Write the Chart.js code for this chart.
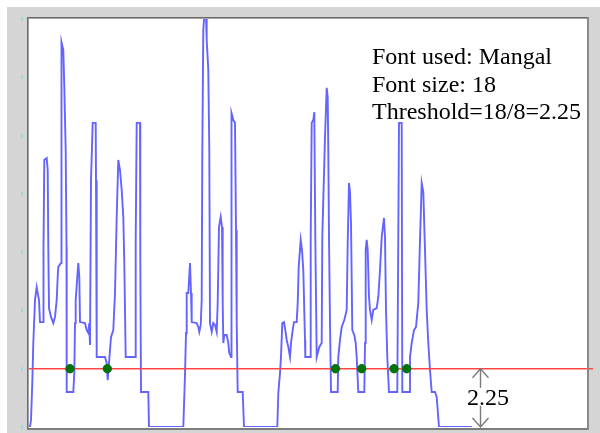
<!DOCTYPE html>
<html>
<head>
<meta charset="utf-8">
<script src="https://cdn.jsdelivr.net/npm/chart.js"></script>
<style>
  body { margin: 0; background: #fff; }
  canvas { display: block; }
</style>
</head>
<body>
<canvas id="perfil" width="600" height="433"></canvas>
<script>
// ======= Datos =======
// perfil de proyeccion: [columna, valor]
const profile = [
  [0,0],[1,0],[2,0.27],[3.3,1.70],[4.3,3.24],[6,4.90],[7.7,5.40],[8.7,5.17],[10,4.90],[11,4.05],[14.3,4.05],
  [14.5,6.95],[15.3,10.31],[17.7,10.38],[18.7,9.92],[19.3,6.95],[20,4.59],[22,4.25],[24.3,4.01],[26,4.25],
  [27.7,4.90],[28.7,5.79],[29.3,6.18],[32,6.33],[32.3,10.58],[32.7,14.86],[34.3,14.55],[35.3,13.12],[36.7,10.69],
  [37.5,6.95],[37.7,1.35],[44.3,1.35],[45.3,2.08],[46,4.01],[46.7,4.90],[48.3,5.79],[49.3,6.33],[50.3,5.79],
  [51,4.05],[56,4.01],[57.7,3.74],[59.3,3.63],[60.3,4.01],[61,3.17],[62,9.53],[63.7,11.74],[66.7,11.74],
  [67,9.53],[67.7,2.70],[76,2.70],[77.7,2.47],[78.7,1.81],[80,2.47],[82,3.47],[84.3,3.74],[86,5.17],
  [87.7,8.11],[89.3,10.31],[91,9.92],[92.7,9.15],[94.3,8.11],[95.3,6.33],[96.7,2.70],[106,2.70],[106.7,7.22],
  [107.7,11.74],[111,11.74],[111.3,6.56],[112,1.35],[119.3,1.35],[120,0],
  [154.3,0],[156,2.01],[157,3.63],[157.7,5.17],[159.3,5.17],[161,6.33],[162,5.17],[162.7,4.05],[167.7,4.01],
  [169.3,3.86],[170.3,3.67],[171.7,3.94],[172.7,4.90],[173.3,10.58],[174.3,15.33],[175.3,15.9],[177,15.79],
  [177.7,14.94],[179.3,13.78],[180.3,10.69],[181,4.01],[182.7,3.67],[184.3,4.01],[186,3.94],[187.7,3.67],
  [188.7,4.79],[190,7.72],[191.7,8.11],[193,7.72],[193.7,4.79],[194.3,3.24],[195.3,3.55],[197.7,3.55],
  [199.3,3.24],[200.3,2.86],[202,2.70],[202.3,7.49],[202.7,12.12],[204.3,11.85],[206,11.74],[207,7.60],
  [207.7,4.01],[208.7,1.35],[213.7,1.35],[215,0],
  [248.3,0],[249.3,1.31],[251,2.08],[252,2.70],[253.3,4.01],[255,4.05],[256.3,3.74],[257.7,3.36],[259.3,3.09],
  [261,2.70],[262,3.24],[263.7,3.74],[265,4.05],[267.7,4.05],[268.7,4.79],[269.7,6.18],[271.7,7.22],[273,6.83],
  [274.3,6.06],[276,3.36],[276.3,2.70],[281,2.70],[281.7,7.33],[282.7,11.74],[284.3,11.85],[285.3,12.16],
  [286.3,7.33],[287.7,2.70],[290.3,3.09],[292.7,3.24],[293.3,7.33],[296,11.19],[297.7,13.09],[298.7,12.74],
  [299.3,10.69],[300,7.33],[301,4.01],[302,1.35],[308.7,1.35],[309.3,2.70],[311,3.36],[312.7,3.86],[315.3,4.13],
  [317.7,4.52],[318.7,7.10],[320,9.42],[321,9.07],[322,7.87],[323.3,3.74],[325.3,3.55],[326.7,3.24],[327.7,2.70],
  [329.3,1.35],[335.3,1.35],[336,3.24],[336.7,6.83],[337.7,7.22],[338.7,6.83],[340,5.02],[341,4.52],[342.7,4.13],
  [344.3,4.52],[347.7,4.59],[349.3,5.02],[351,6.06],[352.7,7.33],[355,8.07],[356,7.33],[357,4.52],[358.3,2.70],
  [360,1.35],[368.3,1.35],[369.3,7.33],[370,11.74],[372.7,11.74],[373.3,1.35],[380,1.35],[381,2.70],[382.7,3.24],
  [385,3.74],[387,3.86],[389.3,4.79],[391,7.22],[392.7,9.42],[394.3,9.07],[396,6.83],[397.7,4.52],[399.3,3.24],
  [401,2.20],[402.7,1.35],[406,1.35],[407.7,1.16],[410,0],[443,0]
];

const threshold = 2.25;                  // 18/8
const cutColumns = [41, 78.3, 306.5, 332.7, 365, 377.7];   // puntos verdes
const thresholdSpan = [-1, 564];         // linea roja
const arrowColumn = 450.5;
const yTicks = [0, 2.25, 4.5, 6.75, 9, 11.25, 13.5, 15.75];
const infoLines = ["Font used: Mangal", "Font size: 18", "Threshold=18/8=2.25"];
const arrowLabel = "2.25";

const SERIF = '"Liberation Serif", "Times New Roman", serif';

// ======= Marco y anotaciones =======
const marco = {
  id: 'marco',
  beforeDraw(chart) {
    const c = chart.ctx, a = chart.chartArea, y = chart.scales.y;
    c.save();
    c.fillStyle = '#ffffff';
    c.fillRect(0, 0, chart.width, chart.height);
    c.fillStyle = '#d5d5d5';
    c.fillRect(7, 7, chart.width - 7, chart.height - 7);
    c.fillStyle = '#ffffff';
    c.fillRect(a.left, a.top, a.right - a.left, a.bottom - a.top + 1);
    // marcas del eje izquierdo
    c.fillStyle = '#a6d8d8';
    yTicks.forEach(v => {
      const py = Math.round(y.getPixelForValue(v));
      c.fillRect(21, py - 2, 2, 4);
    });
    c.restore();
  },
  afterDraw(chart) {
    const c = chart.ctx, a = chart.chartArea, x = chart.scales.x, y = chart.scales.y;
    c.save();
    // bordes
    c.fillStyle = '#6c6c6c';
    c.fillRect(a.left - 2, a.top - 2, a.right - a.left + 2, 1);
    c.fillRect(a.left - 2, a.top - 2, 1, a.bottom - a.top + 5);
    c.fillStyle = '#a2a2a2';
    c.fillRect(a.left - 1, a.top - 1, a.right - a.left + 1, 1);
    c.fillRect(a.left - 1, a.top - 1, 1, a.bottom - a.top + 3);
    c.fillStyle = '#7c7c7c';
    c.fillRect(a.left - 2, a.bottom + 1, a.right - a.left + 4, 2);
    c.fillStyle = '#8a8a8a';
    c.fillRect(a.right, a.top - 2, 2, a.bottom - a.top + 5);

    // texto informativo
    c.fillStyle = '#000';
    c.font = '24px ' + SERIF;
    c.textAlign = 'left';
    c.textBaseline = 'alphabetic';
    infoLines.forEach((t, i) => c.fillText(t, a.left + 343, a.top + 45 + i * 27.5));

    // flecha doble con la altura del umbral
    const ax = Math.round(x.getPixelForValue(arrowColumn)) + 0.5;
    const top = y.getPixelForValue(threshold);
    const bot = y.getPixelForValue(0);
    c.strokeStyle = '#7a7a7a';
    c.lineWidth = 1.4;
    c.beginPath();
    c.moveTo(ax, top); c.lineTo(ax, bot);
    c.moveTo(ax - 8, top + 9); c.lineTo(ax, top); c.lineTo(ax + 8, top + 9);
    c.moveTo(ax - 8, bot - 9); c.lineTo(ax, bot); c.lineTo(ax + 8, bot - 9);
    c.stroke();
    const base = (top + bot) / 2 + 7;
    const w = c.measureText(arrowLabel).width;
    c.fillStyle = '#ffffff';
    c.fillRect(ax - 13.5, base - 17, w, 18);
    c.fillStyle = '#000';
    c.fillText(arrowLabel, ax - 13.5, base);
    c.restore();
  }
};

// ======= Grafico =======
const ctx = document.getElementById('perfil').getContext('2d');

new Chart(ctx, {
  type: 'line',
  data: {
    datasets: [
      {
        data: profile.map(p => ({ x: p[0], y: p[1] })),
        borderColor: '#6464ff',
        borderWidth: 1.9,
        pointRadius: 0,
        tension: 0,
        order: 2
      },
      {
        data: thresholdSpan.map(c => ({ x: c, y: threshold })),
        borderColor: '#ff4646',
        borderWidth: 1.5,
        pointRadius: 0,
        clip: false,
        order: 1
      },
      {
        type: 'scatter',
        data: cutColumns.map(c => ({ x: c, y: threshold })),
        backgroundColor: '#00730a',
        borderColor: '#00730a',
        pointRadius: 4.2,
        order: 0
      }
    ]
  },
  options: {
    responsive: false,
    animation: false,
    events: [],
    layout: { padding: { left: 29, right: 13, top: 19, bottom: 6 } },
    scales: {
      x: { type: 'linear', min: 0, max: 558, display: false },
      y: { min: 0, max: 15.75, display: false }
    },
    plugins: { legend: { display: false }, tooltip: { enabled: false } }
  },
  plugins: [marco]
});
</script>
</body>
</html>
